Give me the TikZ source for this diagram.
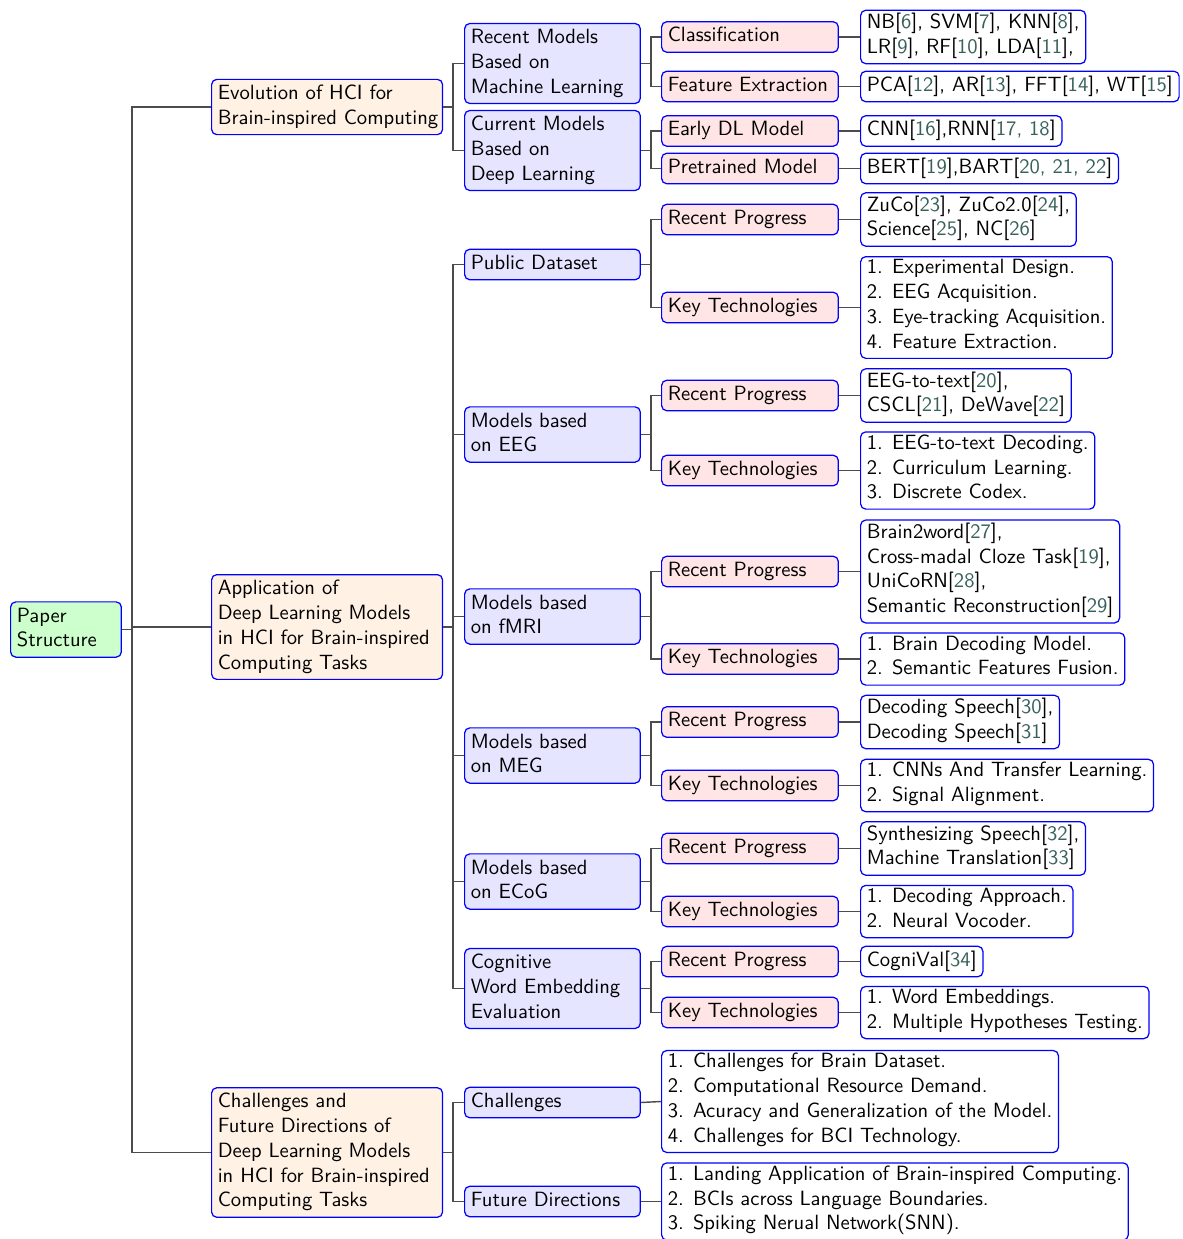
\documentclass[tikz,border=0pt]{standalone}
\usepackage{fontspec}
\definecolor{citec}{rgb}{0.22,0.38,0.36}
\newcommand\rf[1]{[\textcolor{citec}{#1}]}
\begin{document}
\begin{tikzpicture}[x=0.485pt,y=-0.485pt,
  box/.style={draw=blue, line width=0.6pt, rounded corners=2.5pt, font=\sffamily,
    inner xsep=3pt, inner ysep=1.4pt, align=left, anchor=west,
    execute at begin node={\strut\hyphenpenalty=10000\exhyphenpenalty=10000},
    execute at end node=\strut},
  rootbox/.style={box, fill=green!20, text width=47.7pt},
  lone/.style={box, fill=orange!10, text width=106pt},
  ltwo/.style={box, fill=blue!10, text width=79.2pt},
  lthree/.style={box, fill=red!10, text width=79.7pt},
  lfour/.style={box, fill=white},
  conn/.style={draw=black!70, line width=0.7pt}]
\useasboundingbox (0,0) rectangle (1182,1239);
% level 0
\node[rootbox] (root) at (10,629.5) {Paper\\Structure};
% level 1
\node[lone] (evo) at (211,107) {Evolution of HCI for\\\mbox{Brain-inspired Computing}};
\node[lone] (app) at (211,627) {Application of\\Deep Learning Models\\\mbox{in HCI for Brain-inspired}\\Computing Tasks};
\node[lone] (cfd) at (211,1152.5) {Challenges and\\Future Directions of\\Deep Learning Models\\\mbox{in HCI for Brain-inspired}\\Computing Tasks};
% level 2
\node[ltwo] (rml) at (464,63.5) {Recent Models\\Based on\\Machine Learning};
\node[ltwo] (cdl) at (464,150.5) {Current Models\\Based on\\Deep Learning};
\node[ltwo] (pub) at (464,264.5) {Public Dataset};
\node[ltwo] (eeg) at (464,434.5) {Models based\\on EEG};
\node[ltwo] (fmri) at (464,616.5) {Models based\\on fMRI};
\node[ltwo] (meg) at (464,755.5) {Models based\\on MEG};
\node[ltwo] (ecog) at (464,881.5) {Models based\\on ECoG};
\node[ltwo] (cog) at (464,988.5) {Cognitive\\Word Embedding\\Evaluation};
\node[ltwo] (chl) at (464,1102.5) {Challenges};
\node[ltwo] (fut) at (464,1201.5) {Future Directions};
% level 3
\node[lthree] (cls) at (661,37) {Classification};
\node[lthree] (fe) at (661,86.5) {Feature Extraction};
\node[lthree] (edl) at (661,131) {Early DL Model};
\node[lthree] (pm) at (661,168.5) {Pretrained Model};
\node[lthree] (rpa) at (661,219.5) {Recent Progress};
\node[lthree] (kta) at (661,307.5) {Key Technologies};
\node[lthree] (rpb) at (661,395.5) {Recent Progress};
\node[lthree] (ktb) at (661,470.5) {Key Technologies};
\node[lthree] (rpc) at (661,571.5) {Recent Progress};
\node[lthree] (ktc) at (661,659) {Key Technologies};
\node[lthree] (rpd) at (661,722) {Recent Progress};
\node[lthree] (ktd) at (661,785.5) {Key Technologies};
\node[lthree] (rpe) at (661,848.5) {Recent Progress};
\node[lthree] (kte) at (661,911.5) {Key Technologies};
\node[lthree] (rpf) at (661,961.5) {Recent Progress};
\node[lthree] (ktf) at (661,1012.5) {Key Technologies};
\node[lfour] (chll) at (661,1101.5) {1. Challenges for Brain Dataset.\\2. Computational Resource Demand.\\3. Acuracy and Generalization of the Model.\\4. Challenges for BCI Technology.};
\node[lfour] (futl) at (661,1201.5) {1. Landing Application of Brain-inspired Computing.\\2. BCIs across Language Boundaries.\\3. Spiking Nerual Network(SNN).};
% level 4
\coordinate (X4) at (860,0);
\node[lfour] (nb) at (cls -| X4) {NB\rf{6}, SVM\rf{7}, KNN\rf{8},\\LR\rf{9}, RF\rf{10}, LDA\rf{11},};
\node[lfour] (pca) at (fe -| X4) {PCA\rf{12}, AR\rf{13}, FFT\rf{14}, WT\rf{15}};
\node[lfour] (cnn) at (edl -| X4) {CNN\rf{16},RNN\rf{17, 18}};
\node[lfour] (bert) at (pm -| X4) {BERT\rf{19},BART\rf{20, 21, 22}};
\node[lfour] (zuco) at (rpa -| X4) {ZuCo\rf{23}, ZuCo2.0\rf{24},\\Science\rf{25}, NC\rf{26}};
\node[lfour] (kla) at (kta -| X4) {1. Experimental Design.\\2. EEG Acquisition.\\3. Eye-tracking Acquisition.\\4. Feature Extraction.};
\node[lfour] (e2t) at (rpb -| X4) {EEG-to-text\rf{20},\\CSCL\rf{21}, DeWave\rf{22}};
\node[lfour] (klb) at (ktb -| X4) {1. EEG-to-text Decoding.\\2. Curriculum Learning.\\3. Discrete Codex.};
\node[lfour] (b2w) at (rpc -| X4) {Brain2word\rf{27},\\Cross-madal Cloze Task\rf{19},\\UniCoRN\rf{28},\\Semantic Reconstruction\rf{29}};
\node[lfour] (klc) at (ktc -| X4) {1. Brain Decoding Model.\\2. Semantic Features Fusion.};
\node[lfour] (dsp) at (rpd -| X4) {Decoding Speech\rf{30},\\Decoding Speech\rf{31}};
\node[lfour] (kld) at (ktd -| X4) {1. CNNs And Transfer Learning.\\2. Signal Alignment.};
\node[lfour] (syn) at (rpe -| X4) {Synthesizing Speech\rf{32},\\Machine Translation\rf{33}};
\node[lfour] (kle) at (kte -| X4) {1. Decoding Approach.\\2. Neural Vocoder.};
\node[lfour] (cgv) at (rpf -| X4) {CogniVal\rf{34}};
\node[lfour] (klf) at (ktf -| X4) {1. Word Embeddings.\\2. Multiple Hypotheses Testing.};
% forked connectors
\foreach \p/\c in {root/evo, root/app, root/cfd,
  evo/rml, evo/cdl,
  app/pub, app/eeg, app/fmri, app/meg, app/ecog, app/cog,
  cfd/chl, cfd/fut,
  rml/cls, rml/fe, cdl/edl, cdl/pm,
  pub/rpa, pub/kta, eeg/rpb, eeg/ktb, fmri/rpc, fmri/ktc,
  meg/rpd, meg/ktd, ecog/rpe, ecog/kte, cog/rpf, cog/ktf}
  \draw[conn] (\p.east) -- ++(10,0) |- (\c.west);
% single-child connectors
\foreach \p/\c in {cls/nb, fe/pca, edl/cnn, pm/bert, rpa/zuco, kta/kla,
  rpb/e2t, ktb/klb, rpc/b2w, ktc/klc, rpd/dsp, ktd/kld, rpe/syn, kte/kle,
  rpf/cgv, ktf/klf, chl/chll, fut/futl}
  \draw[conn] (\p.east) -- (\c.west);
\end{tikzpicture}
\end{document}
